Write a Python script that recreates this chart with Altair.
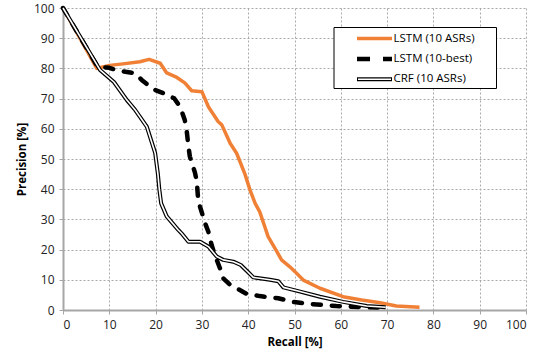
import altair as alt
import pandas as pd

# LSTM (10 ASRs)
lstm_asr_recall = [0, 7.3, 10, 13, 16.6, 18.6, 21, 22.4, 24.6, 26.3, 27.8, 30, 31.4, 33.5, 34.3, 36.1, 37.5,
                   39.3, 40.4, 41.5, 42.5, 43.6, 44.3, 46.2, 47.2, 49, 50.1, 51.9, 55.5, 60.5, 64.5, 68.5, 72, 77]
lstm_asr_prec = [100, 80, 81, 81.5, 82.2, 83, 81.7, 78.5, 77, 75.2, 72.6, 72.3, 67.3, 62.4, 61.3, 55.2, 51.9,
                 45, 39.7, 35.3, 32.5, 27.5, 24.3, 19.3, 16.6, 14.3, 12.7, 9.9, 7.2, 4.4, 3.3, 2.4, 1.3, 0.9]

# LSTM (10-best)
lstm_best_recall = [0, 7.5, 10, 12, 15.6, 17, 19.5, 21.5, 24, 25.3, 26.3, 26.7, 27.1, 27.4, 28.5, 28.9, 29.2,
                    29.6, 30.7, 31.4, 32.1, 32.8, 33.9, 34.6, 36, 37.5, 39.7, 42.5, 46.5, 49.7, 53.3, 59, 65.5, 69]
lstm_best_prec = [100, 80.5, 80.2, 79.2, 78.4, 76.2, 73.1, 71.9, 70.1, 67.3, 62.9, 59.6, 54.1, 50.8, 45.5, 42.5, 36.4,
                  34.2, 28.7, 25.9, 21.5, 18.2, 13.8, 10.5, 8.5, 7.2, 5.3, 4.6, 3.9, 2.7, 2.0, 1.3, 0.9, 0.8]

# CRF (10 ASRs)
crf_recall = [0, 8, 11, 13.8, 15.6, 18.1, 19.9, 20.5, 20.8, 21.2, 22.4, 24.9, 25.6, 27.1, 29.6, 31.4, 33.2, 34.6,
              36.8, 38.4, 40, 41.1, 44.7, 46.5, 47.6, 51.2, 55.5, 60.5, 65.6, 69.7]
crf_prec = [100, 79.5, 75.5, 69.5, 66.2, 60.7, 52, 45, 40, 35.3, 31, 26.5, 25.4, 22.6, 22.6, 21, 17.7, 16.6,
            16, 14.9, 12.5, 10.8, 10, 9.5, 7.5, 6.1, 4.4, 2.7, 1.3, 0.9]

ticks = list(range(0, 101, 10))
legend_labels = ["LSTM (10 ASRs)", "LSTM (10-best)", "CRF (10 ASRs)"]

FONT = "Open Sans"
ORANGE = "#F08036"


def frame(r, p):
    return pd.DataFrame({"recall": r, "precision": p, "i": range(len(r))})


xs = alt.X("recall:Q", scale=alt.Scale(domain=[0, 100], nice=False),
           axis=alt.Axis(values=ticks, title="Recall [%]", format="d"))
ys = alt.Y("precision:Q", scale=alt.Scale(domain=[0, 100], nice=False),
           axis=alt.Axis(values=ticks, title="Precision [%]", format="d"))

orange = alt.Chart(frame(lstm_asr_recall, lstm_asr_prec)).mark_line(
    color=ORANGE, strokeWidth=3.5, strokeJoin="round").encode(x=xs, y=ys, order="i:Q")

dashed = alt.Chart(frame(lstm_best_recall, lstm_best_prec)).mark_line(
    color="black", strokeWidth=4.5, strokeDash=[8, 11], strokeCap="round", strokeJoin="round"
).encode(x=xs, y=ys, order="i:Q")

crf_df = frame(crf_recall, crf_prec)
crf_outer = alt.Chart(crf_df).mark_line(color="black", strokeWidth=4, strokeJoin="round").encode(
    x=xs, y=ys, order="i:Q")
crf_inner = alt.Chart(crf_df).mark_line(color="white", strokeWidth=1.6, strokeJoin="round").encode(
    x=xs, y=ys, order="i:Q")

# legend (drawn manually)
leg_df = pd.DataFrame({"label": legend_labels})
box = alt.Chart(pd.DataFrame({"a": [0]})).mark_rect(fill="white", stroke="black", strokeWidth=1).encode(
    x=alt.value(271), x2=alt.value(433.5), y=alt.value(19.5), y2=alt.value(80.5))
l1 = alt.Chart(pd.DataFrame({"a": [0]})).mark_rule(color=ORANGE, strokeWidth=3.5).encode(
    x=alt.value(294), x2=alt.value(329), y=alt.value(30.5))
l2 = alt.Chart(pd.DataFrame({"a": [0]})).mark_rule(color="black", strokeWidth=4.5, strokeDash=[13, 13]).encode(
    x=alt.value(294), x2=alt.value(329), y=alt.value(51))
l3a = alt.Chart(pd.DataFrame({"a": [0]})).mark_rule(color="black", strokeWidth=4).encode(
    x=alt.value(294), x2=alt.value(329), y=alt.value(71.3))
l3b = alt.Chart(pd.DataFrame({"a": [0]})).mark_rule(color="white", strokeWidth=1.6).encode(
    x=alt.value(295), x2=alt.value(328), y=alt.value(71.3))
texts = []
for lab, yy in zip(legend_labels, [30.5, 51, 71.3]):
    texts.append(alt.Chart(pd.DataFrame({"label": [lab]})).mark_text(
        align="left", baseline="middle", font=FONT, fontSize=11.5, color="black").encode(
        x=alt.value(330.5), y=alt.value(yy), text="label:N"))

chart = alt.layer(orange, dashed, crf_outer, crf_inner, box, l1, l2, l3a, l3b, *texts).properties(
    width=463, height=302,
    autosize=alt.AutoSizeParams(type="none"),
    padding={"left": 63, "top": 8, "right": 21, "bottom": 49},
    background="white",
).configure_view(stroke=None).configure_axis(
    labelFont=FONT, labelFontSize=12, labelColor="#222222",
    titleFont=FONT, titleFontSize=11.5, titleFontWeight="bold", titleColor="black",
    domainColor="#a6a6a6", domainWidth=2, tickColor="#a6a6a6", tickSize=4, tickWidth=1,
    gridColor="#aaaaaa", gridDash=[2, 2], gridWidth=1, labelPadding=5,
).configure_axisX(titlePadding=6).configure_axisY(titlePadding=6)

chart.save("out.html", embed_options={"renderer": "svg", "actions": False})
